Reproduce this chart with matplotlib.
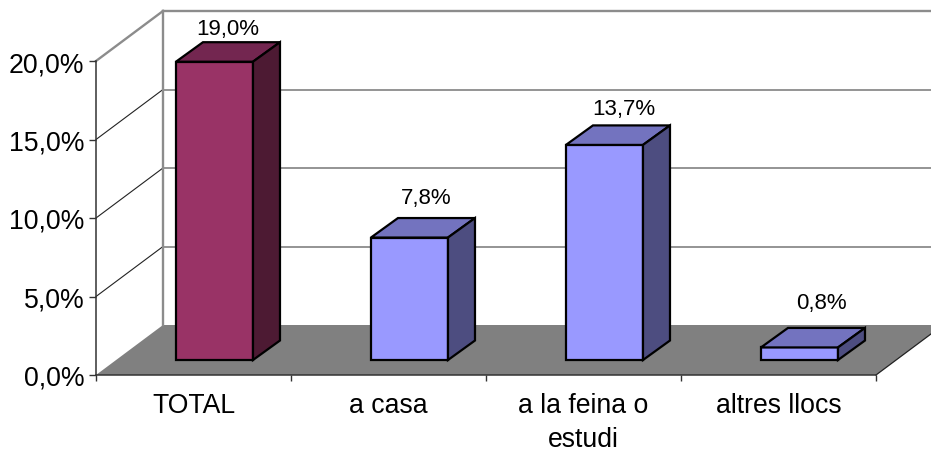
import matplotlib
matplotlib.use("Agg")
import matplotlib.pyplot as plt
from matplotlib.patches import Polygon

plt.rcParams['font.family'] = ['Liberation Sans', 'DejaVu Sans']

categories = ["TOTAL", "a casa", "a la feina o\nestudi", "altres llocs"]
values = [19.0, 7.8, 13.7, 0.8]
value_labels = ["19,0%", "7,8%", "13,7%", "0,8%"]
y_ticks = [0, 5, 10, 15, 20]
y_tick_labels = ["0,0%", "5,0%", "10,0%", "15,0%", "20,0%"]

# front, top, side colours of the bars
maroon = ["#993366", "#732650", "#4d1a33"]
lavender = ["#9999ff", "#7373bf", "#4d4d80"]
bar_colours = [maroon, lavender, lavender, lavender]

# depth of the fake 3d box, in axis units
wall_dx = 67 / 195
wall_dy = 50 / 15.7
bar_dx = 27 / 195
bar_dy = 19.5 / 15.7
bar_front = 0.30   # how far back the bars stand on the floor
bar_gap = 0.307
bar_width = 0.395

fig = plt.figure(figsize=(9.31, 4.52), dpi=100)
ax = fig.add_axes([96 / 931, (452 - 376) / 452, 780 / 931, 314 / 452])
n = len(categories)
ax.set_xlim(0, n)
ax.set_ylim(0, y_ticks[-1])

top = y_ticks[-1]

# floor
ax.add_patch(Polygon([(0, 0), (n, 0), (n + wall_dx, wall_dy), (wall_dx, wall_dy)],
                     closed=True, facecolor="#808080", edgecolor="none", zorder=1, clip_on=False))
ax.plot([n, n + wall_dx], [0, wall_dy], color="#222222", lw=0.9, zorder=1.5, clip_on=False)

# walls and grid
for t in y_ticks:
    is_top = t == top
    if t > 0:
        ax.plot([wall_dx, n + wall_dx], [t + wall_dy, t + wall_dy],
                color="#8c8c8c" if is_top else "#777777", lw=1.7 if is_top else 1.1,
                zorder=1, clip_on=False)
        ax.plot([0, wall_dx], [t, t + wall_dy],
                color="#8c8c8c" if is_top else "#222222", lw=1.7 if is_top else 0.8,
                zorder=1, clip_on=False)
ax.plot([wall_dx, wall_dx], [wall_dy, top + wall_dy], color="#8c8c8c", lw=1.7, zorder=1, clip_on=False)

# bars
for i, v in enumerate(values):
    x0 = i + bar_gap + bar_front * wall_dx
    x1 = x0 + bar_width
    y0 = bar_front * wall_dy
    y1 = y0 + v
    front, roof, side = bar_colours[i]
    ax.add_patch(Polygon([(x0, y0), (x1, y0), (x1, y1), (x0, y1)], closed=True,
                         facecolor=front, edgecolor="black", lw=1.6, joinstyle="miter", zorder=3, clip_on=False))
    ax.add_patch(Polygon([(x0, y1), (x1, y1), (x1 + bar_dx, y1 + bar_dy), (x0 + bar_dx, y1 + bar_dy)], closed=True,
                         facecolor=roof, edgecolor="black", lw=1.6, joinstyle="miter", zorder=3, clip_on=False))
    ax.add_patch(Polygon([(x1, y0), (x1 + bar_dx, y0 + bar_dy), (x1 + bar_dx, y1 + bar_dy), (x1, y1)], closed=True,
                         facecolor=side, edgecolor="black", lw=1.6, joinstyle="miter", zorder=3, clip_on=False))
    # labels drift a bit from the bar tops, same as in the original
    ax.text(x0 + (bar_width + bar_dx) / 2 + 0.015 * i, 3.82 + 0.959 * v, value_labels[i],
            ha="center", va="center", fontsize=16, color="black", zorder=4, clip_on=False)

# axes
ax.patch.set_visible(False)
for s in ["top", "right"]:
    ax.spines[s].set_visible(False)
ax.spines["left"].set_color("#333333")
ax.spines["bottom"].set_color("#333333")
ax.spines["left"].set_linewidth(1.1)
ax.spines["bottom"].set_linewidth(1.1)
ax.spines["left"].set_zorder(5)
ax.spines["bottom"].set_zorder(5)

ax.set_yticks(y_ticks)
ax.set_yticklabels(y_tick_labels, fontsize=19.2)
ax.tick_params(axis="y", length=4.7, width=1, color="#333333", pad=3.5)
ax.set_xticks(range(n + 1))
ax.set_xticklabels([])
ax.set_xticks([i + 0.5 for i in range(n)], minor=True)
ax.set_xticklabels(categories, minor=True, fontsize=19.2, linespacing=1.42)
ax.tick_params(axis="x", which="major", length=4.5, width=1, color="#333333")
ax.tick_params(axis="x", which="minor", length=0, pad=12)

fig.savefig("out.png", dpi=100)
